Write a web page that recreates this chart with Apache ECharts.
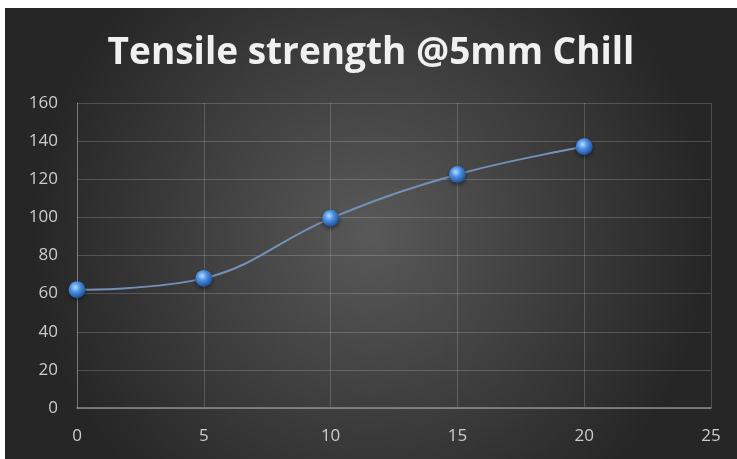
<!DOCTYPE html>
<html>
<head>
<meta charset="utf-8">
<script src="https://cdn.jsdelivr.net/npm/echarts@6/dist/echarts.min.js"></script>
<style>
  html, body { margin: 0; padding: 0; background: #fff; }
  #chart { position: absolute; left: 5px; top: 8px; width: 732px; height: 451px; }
</style>
</head>
<body>
<div id="chart"></div>
<script>
// chill thickness (mm) vs tensile strength
var xValues = [0, 5, 10, 15, 20];
var strength = [62, 68, 99.5, 122.5, 137];

var points = [];
for (var i = 0; i < xValues.length; i++) {
	points.push([xValues[i], strength[i]]);
}

var myChart = echarts.init(document.getElementById('chart'));
myChart.setOption({
	backgroundColor: {
		type: 'radial', x: 0.5, y: 0.5, r: 0.75,
		colorStops: [
			{ offset: 0, color: '#595959' },
			{ offset: 1, color: '#262626' }
		]
	},
	title: {
		text: 'Tensile strength @5mm Chill',
		left: 'center',
		top: 22,
		textStyle: {
			color: '#f0f0f0',
			fontFamily: 'Open Sans',
			fontWeight: 'bold',
			fontSize: 37
		}
	},
	grid: { left: 72, right: 26, top: 95, bottom: 51 },
	xAxis: {
		type: 'value',
		min: 0, max: 25, interval: 5,
		axisLine: { lineStyle: { color: '#8c8c8c', width: 1.5 } },
		axisTick: { show: false },
		splitLine: { show: true, lineStyle: { color: 'rgba(255,255,255,0.18)' } },
		axisLabel: { color: '#cccccc', fontSize: 17, margin: 20, fontFamily: 'Open Sans' }
	},
	yAxis: {
		type: 'value',
		min: 0, max: 160, interval: 20,
		axisLine: { show: true, lineStyle: { color: 'rgba(255,255,255,0.25)' } },
		axisTick: { show: false },
		splitLine: { lineStyle: { color: 'rgba(255,255,255,0.18)' } },
		axisLabel: { color: '#cccccc', fontSize: 17, margin: 19, fontFamily: 'Open Sans' }
	},
	series: [{
		type: 'line',
		data: points,
		smooth: 0.4,
		symbol: 'circle',
		symbolSize: 17,
		lineStyle: { color: '#7391b8', width: 2 },
		itemStyle: {
			color: {
				type: 'radial', x: 0.4, y: 0.35, r: 0.65,
				colorStops: [
					{ offset: 0, color: '#b5dcff' },
					{ offset: 0.45, color: '#4a8ee0' },
					{ offset: 1, color: '#1f4f95' }
				]
			},
			shadowColor: 'rgba(0,0,0,0.5)',
			shadowBlur: 4,
			shadowOffsetY: 2
		}
	}]
});
</script>
</body>
</html>
